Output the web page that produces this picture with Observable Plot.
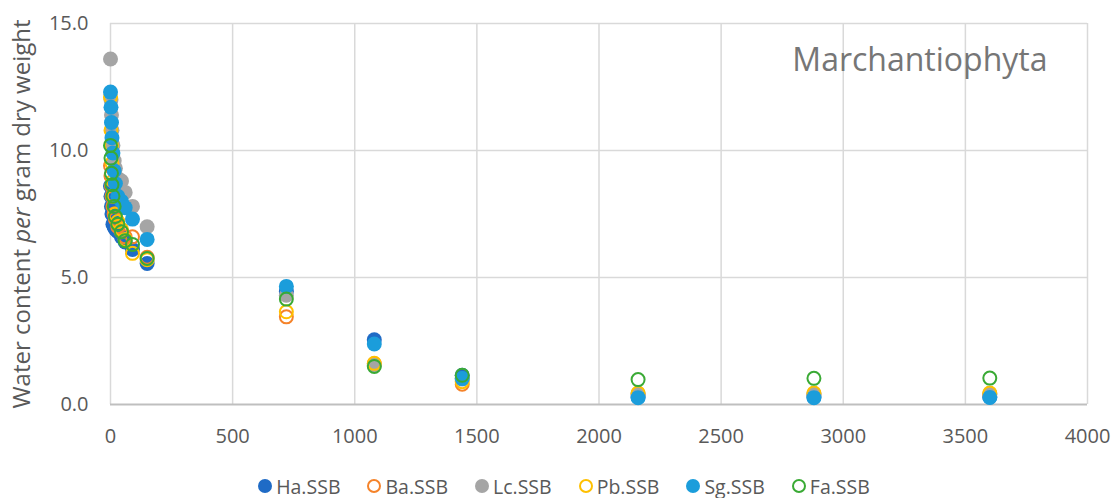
<!DOCTYPE html>
<html>
<head>
<meta charset="utf-8">
<script src="https://cdn.jsdelivr.net/npm/d3@7"></script>
<script src="https://cdn.jsdelivr.net/npm/@observablehq/plot@0.6"></script>
<style>
  body { margin: 0; background: #fff; font-family: "Open Sans", sans-serif; }
  #chart { width: 1113px; }
  .legend { display: flex; justify-content: center; gap: 26px; height: 36px; align-items: center;
            font-size: 19.5px; color: #595959; margin-left: 14px; }
  .legend span { display: inline-flex; align-items: center; gap: 3px; }
</style>
</head>
<body>
<div id="chart"></div>
<script>
// Drying time (minutes) and water content per gram dry weight for six liverwort samples
const times = [0, 2, 4, 6, 10, 15, 20, 30, 45, 60, 90, 150, 720, 1080, 1440, 2160, 2880, 3600];

const haSSB = [8.6, 8.2, 7.8, 7.5, 7.1, 7.0, 6.9, 6.8, 6.6, 6.4, 6.1, 5.55, 4.45, 2.55, 1.15, 0.30, 0.30, 0.30];
const baSSB = [9.4, 9.0, 8.6, 8.2, 7.8, 7.5, 7.3, 7.0, 6.8, 6.6, 6.6, 5.8, 3.45, 1.60, 0.80, 0.40, 0.40, 0.40];
const lcSSB = [13.6, 12.0, 11.4, 10.8, 10.2, 9.6, 9.3, 8.9, 8.8, 8.35, 7.8, 7.0, 4.30, 1.55, 1.00, 0.42, 0.42, 0.42];
const pbSSB = [12.1, 10.8, 10.2, 9.5, 8.8, 8.2, 7.5, 7.2, 6.9, 6.5, 5.95, 5.7, 3.65, 1.62, 0.90, 0.45, 0.45, 0.45];
const sgSSB = [12.3, 11.7, 11.1, 10.5, 9.9, 9.2, 8.7, 8.2, 8.0, 7.75, 7.3, 6.5, 4.65, 2.38, 1.02, 0.27, 0.27, 0.28];
const faSSB = [10.2, 9.7, 9.1, 8.65, 8.2, 7.8, 7.4, 7.1, 6.8, 6.45, 6.3, 5.75, 4.15, 1.50, 1.15, 0.98, 1.03, 1.04];

const seriesNames = ["Ha.SSB", "Ba.SSB", "Lc.SSB", "Pb.SSB", "Sg.SSB", "Fa.SSB"];
const seriesValues = [haSSB, baSSB, lcSSB, pbSSB, sgSSB, faSSB];
const seriesColors = ["#1f6bc6", "#f5832a", "#a5a5a5", "#ffc000", "#1b9ddb", "#3aaa35"];
const seriesFilled = [true, false, true, false, true, false];

const xTicks = [0, 500, 1000, 1500, 2000, 2500, 3000, 3500, 4000];
const yTicks = [0, 5, 10, 15];
const chartTitle = "Marchantiophyta";

const rows = seriesNames.flatMap((name, i) =>
  times.map((t, j) => ({series: name, time: t, water: seriesValues[i][j]})));

const textColor = "#595959";

const dotMarks = seriesNames.map((name, i) => {
  const data = rows.filter(d => d.series === name);
  return seriesFilled[i]
    ? Plot.dot(data, {x: "time", y: "water", r: 7.5, fill: seriesColors[i], stroke: "none"})
    : Plot.dot(data, {x: "time", y: "water", r: 6.5, fill: "none", stroke: seriesColors[i], strokeWidth: 2});
});

const plot = Plot.plot({
  width: 1113,
  height: 468,
  marginLeft: 110,
  marginRight: 26,
  marginTop: 23,
  marginBottom: 64,
  style: {fontFamily: "Open Sans, sans-serif", fontSize: "20px", color: textColor, background: "#fff"},
  x: {domain: [0, 4000], ticks: xTicks},
  y: {domain: [0, 15], ticks: yTicks},
  marks: [
    Plot.gridX(xTicks, {stroke: "#d9d9d9", strokeWidth: 1.5, strokeOpacity: 1}),
    Plot.gridY(yTicks.filter(v => v > 0), {stroke: "#d9d9d9", strokeWidth: 1.5, strokeOpacity: 1}),
    Plot.ruleY([0], {stroke: "#bfbfbf", strokeWidth: 2}),
    Plot.axisX(xTicks, {tickSize: 0, tickPadding: 24, label: null, tickFormat: d => String(d), fill: textColor, fontSize: 20}),
    Plot.axisY(yTicks, {tickSize: 0, tickPadding: 22, label: null, tickFormat: d => d.toFixed(1), fill: textColor, fontSize: 20}),
    ...dotMarks,
    Plot.text([chartTitle], {frameAnchor: "top-right", dx: -40, dy: 25, lineAnchor: "top",
      fontSize: 32, fill: "#767676", text: d => d})
  ]
});

// Rotated y axis title with the italic "per"
const svg = d3.select(plot);
const label = svg.append("text")
  .attr("transform", "translate(30,214) rotate(-90)")
  .attr("text-anchor", "middle")
  .attr("fill", textColor)
  .style("font-size", "24px")
  .style("font-family", "Open Sans, sans-serif");
label.append("tspan").text("Water content ");
label.append("tspan").style("font-style", "italic").text("per");
label.append("tspan").text(" gram dry weight");

document.getElementById("chart").appendChild(plot);

// Legend below the chart
const legend = d3.select("#chart").append("div").attr("class", "legend");
seriesNames.forEach((name, i) => {
  const item = legend.append("span");
  const s = item.append("svg").attr("width", 16).attr("height", 16);
  s.append("circle").attr("cx", 8).attr("cy", 8)
    .attr("r", seriesFilled[i] ? 7 : 6)
    .attr("fill", seriesFilled[i] ? seriesColors[i] : "none")
    .attr("stroke", seriesFilled[i] ? "none" : seriesColors[i])
    .attr("stroke-width", 2);
  item.append("span").text(name);
});
</script>
</body>
</html>
